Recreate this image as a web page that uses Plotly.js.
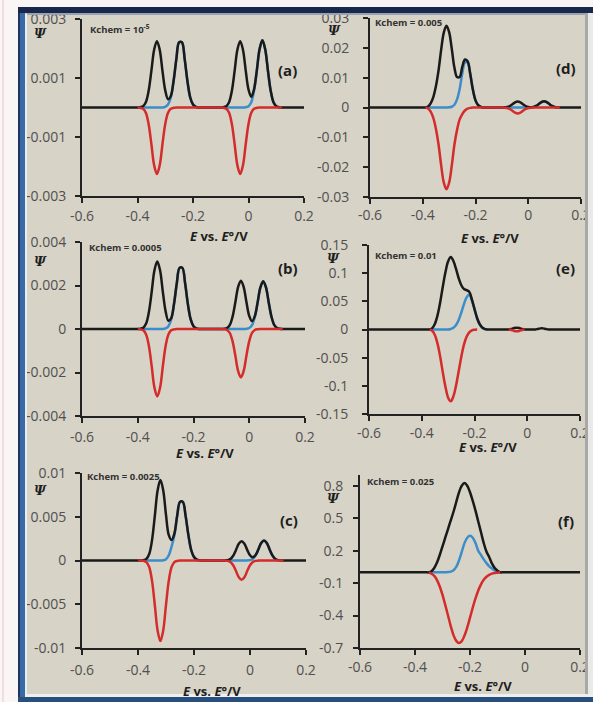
<!DOCTYPE html>
<html><head><meta charset="utf-8">
<script src="https://cdn.plot.ly/plotly-3.0.1.min.js"></script>
<style>html,body{margin:0;padding:0;background:#fbf6f6;}#chart{width:593px;height:702px;}</style>
</head><body><div id="chart"></div>
<script>
const n = null;
// Potential grid, E vs. E°/V
const E_V = [-0.6,-0.42,-0.41,-0.40,-0.39,-0.38,-0.37,-0.36,-0.35,-0.34,
 -0.33,-0.32,-0.31,-0.30,-0.29,-0.28,-0.27,-0.26,-0.25,-0.24,
 -0.23,-0.22,-0.21,-0.20,-0.19,-0.18,-0.17,-0.16,-0.15,-0.14,
 -0.13,-0.12,-0.11,-0.10,-0.09,-0.08,-0.07,-0.06,-0.05,-0.04,
 -0.03,-0.02,-0.01,0,0.01,0.02,0.03,0.04,0.05,0.06,
 0.07,0.08,0.09,0.10,0.11,0.12,0.2];

// (a) Kchem = 1e-5
const a_blue = [n,n,n,0,0,0,0,0,0,0,
 0,0,0,0.000023,0.0001,0.00034,0.00089,0.00164,0.00221,0.00221,
 0.00164,0.00089,0.00034,0.0001,0.000023,0,0,0,0,0,
 0,0,0,0,0,0,0,0,0,0,
 0,0,0.000011,0.000046,0.00018,0.00057,0.00125,0.00198,0.00228,0.00198,
 0.00125,0.00057,0.00018,0.000046,0.000011,0,n];
const a_black = [0,0,0,0,0.000011,0.000045,0.00018,0.00056,0.00124,0.00196,
 0.00225,0.00196,0.00124,0.00058,0.00028,0.00039,0.0009,0.00164,0.00221,0.00221,
 0.00164,0.00089,0.00034,0.0001,0.000023,0,0,0,0,0,
 0,0,0,0,0.000011,0.000045,0.00018,0.00056,0.00124,0.00196,
 0.00225,0.00196,0.00125,0.00061,0.00036,0.00062,0.00126,0.00198,0.00228,0.00198,
 0.00125,0.00057,0.00018,0.000046,0.000011,0,0];
const a_red = [n,n,n,0,-0.000011,-0.000045,-0.00018,-0.00056,-0.00124,-0.00196,
 -0.00225,-0.00196,-0.00124,-0.00056,-0.00018,-0.000045,-0.000011,0,0,0,
 0,0,0,0,0,0,0,0,0,0,
 0,0,0,0,-0.000011,-0.000045,-0.00018,-0.00056,-0.00124,-0.00196,
 -0.00225,-0.00196,-0.00124,-0.00056,-0.00018,-0.000045,-0.000011,0,0,0,
 0,0,0,0,0,0,n];

// (b) Kchem = 0.0005
const b_blue = [n,n,n,0,0,0,0,0,0,0,
 0,0,0,0.00003,0.00013,0.00044,0.00113,0.00209,0.00281,0.00281,
 0.00209,0.00113,0.00044,0.00013,0.00003,0,0,0,0,0,
 0,0,0,0,0,0,0,0,0,0,
 0,0,0.000011,0.000044,0.00018,0.00055,0.00121,0.00191,0.0022,0.00191,
 0.00121,0.00055,0.00018,0.000044,0.000011,0,n];
const b_black = [0,0,0,0,0.000016,0.000062,0.00025,0.00078,0.00171,0.0027,
 0.0031,0.0027,0.00171,0.00081,0.00038,0.0005,0.00115,0.00209,0.00281,0.00281,
 0.00209,0.00113,0.00044,0.00013,0.00003,0,0,0,0,0,
 0,0,0,0,0.000011,0.000044,0.00018,0.00056,0.00122,0.00193,
 0.00222,0.00193,0.00123,0.0006,0.00036,0.00059,0.00122,0.00191,0.0022,0.00191,
 0.00121,0.00055,0.00018,0.000044,0.000011,0,0];
const b_red = [n,n,n,0,-0.000016,-0.000062,-0.00025,-0.00078,-0.00171,-0.0027,
 -0.0031,-0.0027,-0.00171,-0.00078,-0.00025,-0.000062,-0.000016,0,0,0,
 0,0,0,0,0,0,0,0,0,0,
 0,0,0,0,-0.000011,-0.000044,-0.00018,-0.00056,-0.00122,-0.00193,
 -0.00222,-0.00193,-0.00122,-0.00056,-0.00018,-0.000044,-0.000011,0,0,0,
 0,0,0,0,0,0,n];

// (c) Kchem = 0.0025
const c_blue = [n,n,n,0,0,0,0,0,0,0,
 0,0,0.00003,0.00015,0.0006,0.0016,0.0029,0.0051,0.0067,0.0067,
 0.0051,0.0029,0.0012,0.0004,0.0001,0.00002,0,0,0,0,
 0,0,0,0,0,0,0,0,0,0,
 0,0,0.000011,0.000046,0.00018,0.00058,0.00127,0.002,0.0023,0.002,
 0.00127,0.00058,0.00018,0.000046,0.000011,0,n];
const c_black = [0,0,0,0,0,0.000046,0.00018,0.00074,0.0023,0.00506,
 0.008,0.0092,0.00803,0.00521,0.0029,0.00234,0.00308,0.00515,0.0067,0.0067,
 0.0051,0.0029,0.0012,0.0004,0.0001,0.00002,0,0,0,0,
 0,0,0,0,0.000011,0.000044,0.00018,0.00055,0.00121,0.00191,
 0.0022,0.00191,0.00122,0.0006,0.00036,0.00062,0.00128,0.002,0.0023,0.002,
 0.00127,0.00058,0.00018,0.000046,0.000011,0,0];
const c_red = [n,n,n,0,0,-0.000046,-0.00018,-0.00074,-0.0023,-0.00506,
 -0.008,-0.0092,-0.008,-0.00506,-0.0023,-0.00074,-0.00018,-0.000046,0,0,
 0,0,0,0,0,0,0,0,0,0,
 0,0,0,0,-0.000011,-0.000044,-0.00018,-0.00055,-0.00121,-0.00191,
 -0.0022,-0.00191,-0.00121,-0.00055,-0.00018,-0.000044,-0.000011,0,0,0,
 0,0,0,0,0,0,n];

// (d) Kchem = 0.005
const d_blue = [n,n,n,n,0,0,0,0,0,0,
 0,0,0,0.00005,0.00025,0.0009,0.0027,0.0062,0.0115,0.0151,
 0.0151,0.0112,0.006,0.0024,0.0008,0.0002,0,0,0,0,
 0,0,0,0,0,0,0,0,0,0,
 0,0,0,0,0.00004,0.00017,0.00053,0.00115,0.0018,0.0021,
 0.0018,0.00115,0.00053,0.00017,0.00004,0,n];
const d_black = [0,0,0,0,0,0.0003,0.0014,0.0035,0.0072,0.0125,
 0.0195,0.0252,0.0274,0.02525,0.01975,0.0134,0.0102,0.0102,0.0137,0.0161,
 0.0155,0.01132,0.006,0.0024,0.0008,0.0002,0,0,0,0,
 0,0,0,0,0.00004,0.00016,0.0005,0.0011,0.00174,0.002,
 0.00174,0.0011,0.0005,0.00016,0.00008,0.00017,0.00053,0.00115,0.0018,0.0021,
 0.0018,0.00115,0.00053,0.00017,0.00004,0,0];
const d_red = [n,n,n,n,0,-0.0003,-0.0014,-0.0035,-0.0072,-0.0125,
 -0.0195,-0.0252,-0.0274,-0.0252,-0.0195,-0.0125,-0.0075,-0.004,-0.0022,-0.001,
 -0.0004,-0.00012,0,0,0,0,0,0,0,0,
 0,0,0,0,-0.00004,-0.00016,-0.0005,-0.0011,-0.00174,-0.002,
 -0.00174,-0.0011,-0.0005,-0.00016,-0.00004,0,0,0,0,0,
 0,0,0,0,0,0,n];

// (e) Kchem = 0.01
const e_blue = [n,n,n,n,n,n,0,0,0,0,
 0,0,0,0,0.001,0.003,0.008,0.017,0.03,0.045,
 0.057,0.062,0.052,0.036,0.02,0.009,0.003,0.0007,0,n,
 n,n,n,n,n,n,n,n,n,n,
 n,n,n,n,n,n,n,n,n,n,
 n,n,n,n,n,n,n];
const e_black = [0,0,0,0,0,0,0,0.0026,0.0102,0.0255,
 0.0485,0.0765,0.102,0.121,0.1285,0.1216,0.1075,0.091,0.0785,0.0718,
 0.0698,0.0671,0.0535,0.0364,0.02,0.009,0.003,0.0007,0,0,
 0,0,0,0,0,0,0,0.001,0.0025,0.003,
 0.0025,0.001,0,0,0,0,0,0.001,0.002,0.002,
 0.001,0,0,0,0,0,0];
const e_red = [n,n,n,n,n,n,0,-0.0026,-0.0102,-0.0255,
 -0.0485,-0.0765,-0.102,-0.121,-0.1275,-0.1186,-0.0995,-0.074,-0.0485,-0.0268,
 -0.0128,-0.0051,-0.0015,-0.0004,0,n,n,n,n,n,
 n,n,n,n,n,n,0,-0.001,-0.0025,-0.003,
 -0.0025,-0.001,0,n,n,n,n,n,n,n,
 n,n,n,n,n,n,n];

// (f) Kchem = 0.025
const f_blue = [n,n,n,n,n,n,n,n,0,0,
 0,0,0,0,0,0.002,0.007,0.02,0.05,0.11,
 0.19,0.27,0.32,0.337,0.32,0.27,0.2,0.16,0.12,0.085,
 0.055,0.035,0.018,0.007,0,n,n,n,n,n,
 n,n,n,n,n,n,n,n,n,n,
 n,n,n,n,n,n,n];
const f_black = [0,0,0,0,0,0,0,0,0,0.01,
 0.04,0.09,0.16,0.24,0.32,0.4,0.48,0.56,0.65,0.74,
 0.8,0.825,0.8,0.74,0.66,0.57,0.47,0.37,0.27,0.19,
 0.14,0.08,0.04,0.015,0,0,0,0,0,0,
 0,0,0,0,0,0,0,0,0,0,
 0,0,0,0,0,0,0];
const f_red = [n,n,n,n,n,n,n,n,0,-0.013,
 -0.033,-0.072,-0.131,-0.209,-0.301,-0.399,-0.497,-0.582,-0.634,-0.654,
 -0.636,-0.585,-0.51,-0.419,-0.327,-0.242,-0.168,-0.111,-0.069,-0.041,
 -0.023,-0.012,-0.006,-0.003,0,n,n,n,n,n,
 n,n,n,n,n,n,n,n,n,n,
 n,n,n,n,n,n,n];

// tick labels
const X_TICKS = [-0.6,-0.4,-0.2,0,0.2];
const X_TEXT = ['-0.6','-0.4','-0.2','0','0.2'];
const YT_A = [-0.003,-0.001,0.001,0.003], YL_A = ['-0.003','-0.001','0.001','0.003'];
const YT_B = [-0.004,-0.002,0,0.002,0.004], YL_B = ['-0.004','-0.002','0','0.002','0.004'];
const YT_C = [-0.01,-0.005,0,0.005,0.01], YL_C = ['-0.01','-0.005','0','0.005','0.01'];
const YT_D = [-0.03,-0.02,-0.01,0,0.01,0.02,0.03], YL_D = ['-0.03','-0.02','-0.01','0','0.01','0.02','0.03'];
const YT_E = [-0.15,-0.1,-0.05,0,0.05,0.1,0.15], YL_E = ['-0.15','-0.1','-0.05','0','0.05','0.1','0.15'];
const YT_F = [-0.7,-0.4,-0.1,0.2,0.5,0.8], YL_F = ['-0.7','-0.4','-0.1','0.2','0.5','0.8'];
const KCHEM = ['Kchem = 10<sup>-5</sup>','Kchem = 0.0005','Kchem = 0.0025','Kchem = 0.005','Kchem = 0.01','Kchem = 0.025'];
const LABELS = ['(a)','(b)','(c)','(d)','(e)','(f)'];
const X_TITLE = '<b><i>E</i> vs. <i>E</i>°/V</b>';
const Y_TITLE = '<b><i>Ψ</i></b>';

const SERIES = [
 [a_blue,a_black,a_red,[-0.003,0.003],YT_A,YL_A],
 [b_blue,b_black,b_red,[-0.004,0.004],YT_B,YL_B],
 [c_blue,c_black,c_red,[-0.01,0.01],YT_C,YL_C],
 [d_blue,d_black,d_red,[-0.03,0.03],YT_D,YL_D],
 [e_blue,e_black,e_red,[-0.15,0.15],YT_E,YL_E],
 [f_blue,f_black,f_red,[-0.7,0.9],YT_F,YL_F]
];

// layout geometry in pixels
const W = 593, H = 702;
const px = x => x / W, py = y => 1 - y / H;
const GEOM = [
 {x0:82,x1:304,yt:19,yb:196,ysd:6,xsd:1,psi:[40,34],kc:[88,29],lab:[287,70],ttl:[219,236]},
 {x0:82,x1:305,yt:242,yb:416,ysd:6,xsd:2,psi:[40,262],kc:[87,248],lab:[288,268],ttl:[205,453]},
 {x0:82,x1:306,yt:473,yb:648,ysd:6,xsd:3,psi:[40,490],kc:[85,476],lab:[289,520],ttl:[212,691]},
 {x0:370,x1:581,yt:18,yb:197,ysd:11,xsd:-1,psi:[334,31],kc:[373,22],lab:[566,68],ttl:[490,238]},
 {x0:369,x1:580,yt:245,yb:414,ysd:11,xsd:0,psi:[333,259],kc:[373,256],lab:[565,268],ttl:[488,447]},
 {x0:360,x1:580,yt:475,yb:648,ysd:7,xsd:0,psi:[333,499],kc:[365,481],lab:[566,521],ttl:[483,686]}
];

const COLORS = ['#3b8dcc','#1a1a1a','#d42b2b'];
const tickFont = {family:'Open Sans', size:14, color:'#505050'};
const traces = [];
const layout = {
 width:W, height:H, margin:{l:0,r:0,t:0,b:0},
 paper_bgcolor:'#fbf6f6', plot_bgcolor:'rgba(0,0,0,0)',
 showlegend:false, annotations:[], shapes:[]
};

SERIES.forEach((s, i) => {
 const suf = i === 0 ? '' : String(i + 1);
 const g = GEOM[i];
 [0,1,2].forEach(k => {
  traces.push({x:E_V, y:s[k], type:'scatter', mode:'lines', xaxis:'x'+suf, yaxis:'y'+suf,
   connectgaps:false, hoverinfo:'skip',
   line:{color:COLORS[k], width:2.5, shape:'spline', smoothing:1}});
 });
 const common = {showline:true, linecolor:'#222', linewidth:2, ticks:'outside', ticklen:5,
  tickwidth:2, tickcolor:'#222', showgrid:false, zeroline:false, tickfont:tickFont, fixedrange:true};
 layout['xaxis'+suf] = Object.assign({}, common, {domain:[px(g.x0), px(g.x1)], anchor:'y'+suf,
  range:[-0.6,0.2], tickvals:X_TICKS, ticktext:X_TEXT, ticklabelstandoff:g.xsd});
 layout['yaxis'+suf] = Object.assign({}, common, {domain:[py(g.yb), py(g.yt)], anchor:'x'+suf,
  range:s[3], tickvals:s[4], ticktext:s[5], ticklabelstandoff:g.ysd});
 const A = layout.annotations;
 A.push({xref:'paper',yref:'paper',x:px(g.psi[0]),y:py(g.psi[1]),text:Y_TITLE,showarrow:false,
  xanchor:'center',yanchor:'middle',font:{family:'DejaVu Serif',size:13,color:'#1e1e1e'}});
 A.push({xref:'paper',yref:'paper',x:px(g.kc[0]),y:py(g.kc[1]),text:'<b>'+KCHEM[i]+'</b>',showarrow:false,
  xanchor:'left',yanchor:'middle',font:{family:'Open Sans',size:9.5,color:'#333'}});
 A.push({xref:'paper',yref:'paper',x:px(g.lab[0]),y:py(g.lab[1]),text:'<b>'+LABELS[i]+'</b>',showarrow:false,
  xanchor:'center',yanchor:'middle',font:{family:'Open Sans',size:15,color:'#1e1e1e'}});
 A.push({xref:'paper',yref:'paper',x:px(g.ttl[0]),y:py(g.ttl[1]),text:X_TITLE,showarrow:false,
  xanchor:'center',yanchor:'middle',font:{family:'Open Sans',size:13,color:'#1e1e1e'}});
});

// frame
const rect = (x0,y0,x1,y1,fill,layer) => ({type:'rect',xref:'paper',yref:'paper',
 x0:px(x0),x1:px(x1),y0:py(y1),y1:py(y0),fillcolor:fill,line:{width:0},layer:layer});
layout.shapes.push(rect(2,0,4,702,'#f2dede','below'));
layout.shapes.push(rect(18,7,593,702,'#d7d3c6','below'));
layout.shapes.push(rect(18,7,20,702,'#1c3562','above'));
layout.shapes.push(rect(20,7,25,702,'#3a6aa6','above'));
layout.shapes.push(rect(25,14,27,694,'#e8edf1','above'));
layout.shapes.push(rect(18,7,593,13,'#17284c','above'));
layout.shapes.push(rect(27,13,586,15,'#9aa2ad','above'));
layout.shapes.push(rect(585,13,588,697,'#a8a8a6','above'));
layout.shapes.push(rect(588,13,593,697,'#e9e9e7','above'));
layout.shapes.push(rect(25,694,593,697,'#eef0f0','above'));
layout.shapes.push(rect(18,697,593,702,'#27507f','above'));

Plotly.newPlot('chart', traces, layout, {staticPlot:true, displayModeBar:false});
</script>
</body></html>
